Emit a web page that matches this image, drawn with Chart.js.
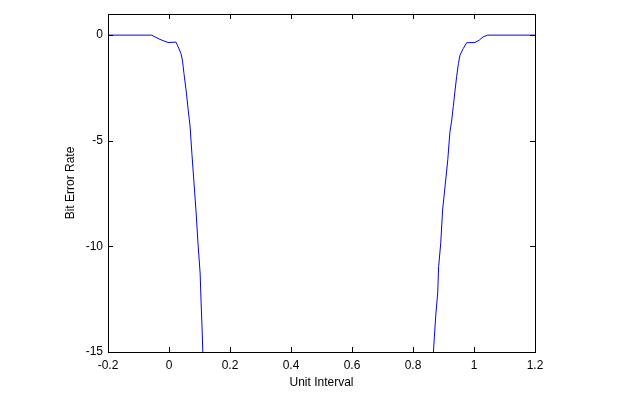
<!DOCTYPE html>
<html>
<head>
<meta charset="utf-8">
<script src="https://cdn.jsdelivr.net/npm/chart.js@4"></script>
<style>
html,body{margin:0;padding:0;background:#fff;}
#wrap{width:624px;height:403px;}
</style>
</head>
<body>
<div id="wrap"><canvas id="c" width="624" height="403"></canvas></div>
<script>
// Data
const xValues = [-0.2, -0.057, -0.03, -0.003, 0.023, 0.030, 0.039, 0.044, 0.049, 0.056, 0.063, 0.069, 0.075, 0.082, 0.089, 0.095, 0.102, 0.105, 0.109, 0.113,
                 0.865, 0.867, 0.870, 0.875, 0.881, 0.884, 0.891, 0.897, 0.905, 0.914, 0.921, 0.927, 0.932, 0.938, 0.943, 0.949, 0.954, 0.965, 0.976, 1.003, 1.017, 1.030, 1.045, 1.2];
const yValues = [0, 0, -0.2, -0.35, -0.33, -0.55, -0.87, -1.18, -1.81, -2.6, -3.55, -4.3, -5.6, -7.0, -8.42, -9.84, -11.26, -12.54, -14.1, -16,
                 -16, -15, -14.3, -13.2, -12.2, -10.96, -9.84, -8.28, -7.18, -5.9, -4.6, -4.02, -3.39, -2.6, -1.97, -1.34, -0.95, -0.63, -0.36, -0.35, -0.24, -0.08, 0, 0];
const xTicks = [-0.2, 0, 0.2, 0.4, 0.6, 0.8, 1, 1.2];
const yTicks = [-15, -10, -5, 0];
const xTitle = 'Unit Interval';
const yTitle = 'Bit Error Rate';

const points = xValues.map((x, i) => ({x: x, y: yValues[i]}));
const font = {family: 'Liberation Sans, Arial, sans-serif', size: 12};

const boxTicks = {
  id: 'boxTicks',
  afterDatasetsDraw(chart) {
    const {ctx, chartArea: a, scales} = chart;
    const L = 5;
    ctx.save();
    ctx.strokeStyle = '#000';
    ctx.lineWidth = 1;
    ctx.beginPath();
    xTicks.forEach(v => {
      const px = Math.round(scales.x.getPixelForValue(v)) + 0.5;
      ctx.moveTo(px, a.bottom); ctx.lineTo(px, a.bottom - L);
      ctx.moveTo(px, a.top); ctx.lineTo(px, a.top + L);
    });
    yTicks.forEach(v => {
      const py = Math.round(scales.y.getPixelForValue(v)) + 0.5;
      ctx.moveTo(a.left, py); ctx.lineTo(a.left + L, py);
      ctx.moveTo(a.right, py); ctx.lineTo(a.right - L, py);
    });
    ctx.stroke();
    ctx.strokeRect(Math.round(a.left) + 0.5, Math.round(a.top) + 0.5, Math.round(a.right - a.left), Math.round(a.bottom - a.top));
    ctx.restore();
  }
};

new Chart(document.getElementById('c'), {
  type: 'line',
  data: {
    datasets: [{
      data: points,
      borderColor: '#0000ff',
      borderWidth: 1,
      pointRadius: 0,
      tension: 0,
      fill: false
    }]
  },
  options: {
    responsive: false,
    animation: false,
    devicePixelRatio: 1,
    layout: {padding: {left: 0, right: 89, top: 14, bottom: 0}},
    plugins: {legend: {display: false}, tooltip: {enabled: false}},
    scales: {
      x: {
        type: 'linear', min: -0.2, max: 1.2,
        afterBuildTicks: s => { s.ticks = xTicks.map(v => ({value: v})); },
        afterFit: s => { s.height = 51; },
        grid: {display: false, drawTicks: false},
        border: {display: false},
        ticks: {color: '#000', font: font, padding: 6, maxRotation: 0, autoSkip: false,
                callback: v => String(Math.round(v * 10) / 10)},
        title: {display: true, text: xTitle, color: '#000', font: font, padding: {top: 2, bottom: 13}}
      },
      y: {
        type: 'linear', min: -15, max: 1,
        afterBuildTicks: s => { s.ticks = yTicks.map(v => ({value: v})); },
        afterFit: s => { s.width = 108; },
        grid: {display: false, drawTicks: false},
        border: {display: false},
        ticks: {color: '#000', font: font, padding: 5, autoSkip: false},
        title: {display: true, text: yTitle, color: '#000', font: font, padding: {top: 63, bottom: 0}}
      }
    }
  },
  plugins: [boxTicks]
});
</script>
</body>
</html>
